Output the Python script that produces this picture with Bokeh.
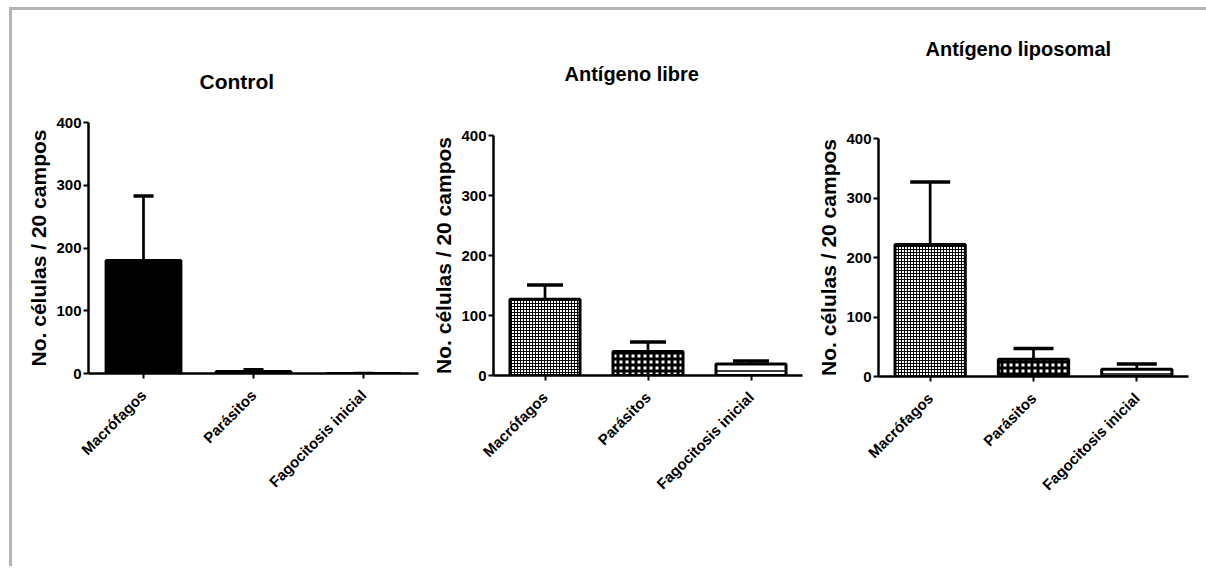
import math
from bokeh.plotting import figure
from bokeh.layouts import row, column
from bokeh.models import (ColumnDataSource, Range1d, FactorRange, FixedTicker, Whisker,
                          TeeHead, Spacer, Title)
from bokeh.embed import file_html
from bokeh.resources import INLINE

categories = ["Macrófagos", "Parásitos", "Fagocitosis inicial"]
titles = ["Control", "Antígeno libre", "Antígeno liposomal"]
control_mean = [180, 3, 0]
control_sd = [103, 3, 0]
libre_mean = [127, 40, 19]
libre_sd = [24, 16, 5]
lipo_mean = [222, 29, 12]
lipo_sd = [105, 18, 9]
y_ticks = [0, 100, 200, 300, 400]
y_label = "No. células / 20 campos"

FONT = "Liberation Sans"
TOP = 110
BOTTOM = 190


def make_panel(title, means, sds, fills, hatches, scales, weights, width, frame_h,
               left, right, t_offset, t_gap, t_size, cap):
    p = figure(title=None, x_range=FactorRange(factors=categories), y_range=Range1d(0, 400),
               width=width, height=TOP + frame_h + BOTTOM,
               output_backend="svg", toolbar_location=None,
               min_border_left=left, min_border_right=right,
               min_border_top=TOP, min_border_bottom=BOTTOM)
    src = ColumnDataSource(dict(
        x=categories, top=means, upper=[m + s for m, s in zip(means, sds)],
        fill=fills, hatch=hatches, scale=scales, weight=weights))
    p.vbar(x="x", top="top", width=0.68, bottom=0, source=src,
           fill_color="fill", line_color="black", line_width=3,
           hatch_pattern="hatch", hatch_color="black", hatch_scale="scale",
           hatch_weight="weight")
    w = Whisker(base="x", lower="top", upper="upper", source=src,
                line_color="black", line_width=2.7, level="glyph",
                upper_head=TeeHead(size=cap, line_width=3.5, line_color="black"),
                lower_head=None)
    p.add_layout(w)

    # spacing element between frame and title, then the title itself
    p.add_layout(Title(text=" ", text_font_size="1px", standoff=t_gap), "above")
    p.add_layout(Title(text=title, align="left", offset=t_offset, standoff=0,
                       text_font=FONT, text_font_size=t_size, text_font_style="bold",
                       text_color="black"), "above")

    p.xgrid.visible = False
    p.ygrid.visible = False
    p.outline_line_color = None

    for ax in (p.xaxis[0], p.yaxis[0]):
        ax.axis_line_width = 2.5
        ax.axis_line_color = "black"
        ax.major_tick_line_width = 2
        ax.major_tick_line_color = "black"
        ax.major_tick_in = 0
        ax.major_tick_out = 5
        ax.minor_tick_line_color = None
        ax.major_label_text_font = FONT
        ax.major_label_text_font_size = "15px"
        ax.major_label_text_font_style = "bold"
        ax.major_label_text_color = "black"
    p.yaxis.ticker = FixedTicker(ticks=y_ticks)
    p.yaxis.major_label_standoff = 2
    p.yaxis.axis_label = y_label
    p.yaxis.axis_label_text_font = FONT
    p.yaxis.axis_label_text_font_size = "21px"
    p.yaxis.axis_label_text_font_style = "bold"
    p.yaxis.axis_label_text_color = "black"
    p.yaxis.axis_label_standoff = 3
    p.xaxis.major_label_orientation = math.pi / 4
    p.xaxis.major_label_standoff = 14
    return p


p1 = make_panel(titles[0], control_mean, control_sd,
                ["black", "black", "black"], ["blank", "blank", "blank"],
                [12, 12, 12], [1, 1, 1],
                416, 251, 76, 10, 111, 27, "21px", 20)
p2 = make_panel(titles[1], libre_mean, libre_sd,
                ["white", "white", "white"], ["cross", "cross", "horizontal_line"],
                [3, 6, 10], [1, 3, 1.5],
                384, 240, 65, 10, 71, 48, "20px", 36)
p3 = make_panel(titles[2], lipo_mean, lipo_sd,
                ["white", "white", "white"], ["cross", "cross", "horizontal_line"],
                [3, 6, 10], [1, 3, 1.5],
                394, 238, 66, 18, 47, 76, "20px", 40)

layout = row(column(Spacer(height=2), p1),
             column(Spacer(height=15), p2),
             column(Spacer(height=18), p3),
             styles={"border-top": "3px solid #b4b4b4",
                     "border-left": "3px solid #b4b4b4",
                     "margin-left": "9px", "margin-top": "7px"})

open("out.html", "w").write(file_html(layout, INLINE))
